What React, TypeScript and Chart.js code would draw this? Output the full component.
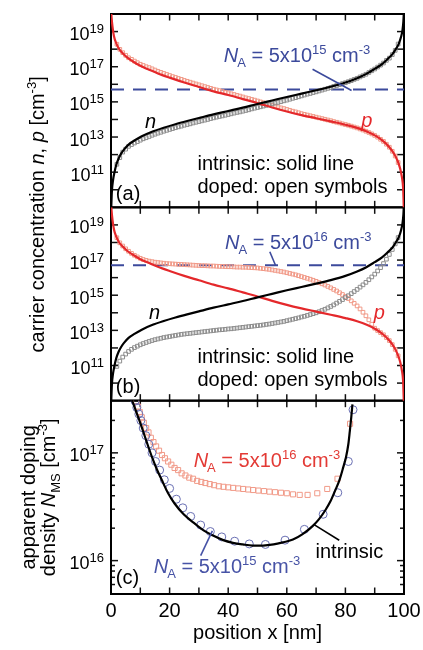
import { useEffect, useRef } from 'react';
import { Chart, registerables } from 'chart.js';

Chart.register(...registerables);

const FONT = '"Liberation Sans", Arial, Helvetica, sans-serif';

const BLUE = '#3c4a9c';
const RED = '#e4282b';
const SALMON = '#f19a88';
const GRAY = '#8d8d8d';
const CIRCLE_BLUE = '#6a70b4';
const RED_TEXT = '#e33a35';
const BLUE_TEXT = '#4753a6';

// position axis, nm
const X_MIN = 0;
const X_MAX = 100;
const X_TICKS = [0, 10, 20, 30, 40, 50, 60, 70, 80, 90, 100];
const X_TICK_LABELS = [0, 20, 40, 60, 80, 100];

// carrier concentration axes of panels (a) and (b), cm^-3
const CONC_MIN = 1e9;
const CONC_MAX = 1e20;
const CONC_TICKS = [1e10, 1e11, 1e12, 1e13, 1e14, 1e15, 1e16, 1e17, 1e18, 1e19];
const CONC_LABEL_EXP = [11, 13, 15, 17, 19];

// apparent doping axis of panel (c), cm^-3
const NMS_MIN = 4.9e15;
const NMS_MAX = 3.05e17;
const NMS_MAJOR = [1e16, 1e17];
const NMS_MINOR = [6e15, 7e15, 8e15, 9e15, 2e16, 3e16, 4e16, 5e16, 6e16, 7e16, 8e16, 9e16, 2e17, 3e17];
const NMS_LABEL_EXP = [16, 17];

// acceptor concentrations of the doped samples, cm^-3
const NA_LOW = 5e15;
const NA_HIGH = 5e16;

// intrinsic electron profile (solid black), log10 of n in cm^-3
const X_N_INTR = [0, 0.3, 0.7, 1.2, 1.8, 2.6, 3.5, 4.5, 6, 8, 10.5, 14, 18, 22, 26, 30, 35, 40, 45, 50,
  55, 60, 65, 70, 75, 80, 84, 87, 90, 92.5, 94.5, 96, 97.2, 98.2, 99, 99.5, 99.8, 100];
const LOG_N_INTR = [8.6, 9.9, 10.55, 11.0, 11.42, 11.78, 12.07, 12.3, 12.57, 12.8, 13.04, 13.3, 13.53, 13.73, 13.91, 14.08, 14.29, 14.48, 14.67, 14.88,
  15.08, 15.28, 15.47, 15.66, 15.86, 16.1, 16.35, 16.58, 16.88, 17.15, 17.45, 17.7, 18.0, 18.3, 18.7, 19.1, 19.6, 20.3];

// intrinsic hole profile (solid red), log10 of p in cm^-3
const X_P_INTR = [0, 0.2, 0.5, 1.0, 1.8, 2.8, 4, 5.5, 7.5, 10, 13, 16, 20, 25, 30, 35, 40, 45, 50, 55,
  60, 65, 70, 75, 80, 84, 87.5, 90.5, 93, 95, 96.6, 97.8, 98.7, 99.3, 99.7, 100];
const LOG_P_INTR = [20.3, 19.8, 19.3, 18.75, 18.33, 18.0, 17.77, 17.53, 17.3, 17.05, 16.83, 16.62, 16.38, 16.1, 15.85, 15.6, 15.39, 15.16, 14.93, 14.68,
  14.45, 14.25, 14.07, 13.89, 13.7, 13.52, 13.3, 13.05, 12.75, 12.42, 12.05, 11.65, 11.2, 10.7, 10.1, 8.6];

// positions of the open symbols for the doped samples, nm
const X_DOPED = [
  2, 3, 4, 5, 6, 7, 8, 9, 10, 11,
  12, 13, 14, 15, 16, 17, 18, 19, 20, 21,
  22, 23, 24, 25, 26, 27, 28, 29, 30, 31,
  32, 33, 34, 35, 36, 37, 38, 39, 40, 41,
  42, 43, 44, 45, 46, 47, 48, 49, 50, 51,
  52, 53, 54, 55, 56, 57, 58, 59, 60, 61,
  62, 63, 64, 65, 66, 67, 68, 69, 70, 71,
  72, 73, 74, 75, 76, 77, 78, 79, 80, 81,
  82, 83, 84, 85, 86, 87, 88, 89, 90, 91,
  92, 93, 94, 95, 96, 97, 98];

// (a) N_A = 5e15: log10 n and p
const LOG_N_DOPED_A = [
  11.45, 11.83, 12.14, 12.31, 12.47, 12.57, 12.66, 12.74, 12.82, 12.9,
  12.96, 13.03, 13.1, 13.16, 13.22, 13.27, 13.33, 13.38, 13.43, 13.48,
  13.53, 13.58, 13.62, 13.67, 13.71, 13.75, 13.8, 13.84, 13.88, 13.92,
  13.96, 14.0, 14.05, 14.09, 14.13, 14.17, 14.2, 14.24, 14.28, 14.32,
  14.36, 14.4, 14.43, 14.47, 14.51, 14.55, 14.6, 14.64, 14.68, 14.72,
  14.76, 14.8, 14.84, 14.89, 14.93, 14.97, 15.01, 15.06, 15.1, 15.15,
  15.2, 15.24, 15.29, 15.34, 15.39, 15.44, 15.48, 15.53, 15.57, 15.62,
  15.67, 15.72, 15.77, 15.82, 15.88, 15.93, 15.98, 16.04, 16.09, 16.15,
  16.21, 16.28, 16.34, 16.42, 16.49, 16.57, 16.67, 16.77, 16.87, 16.98,
  17.09, 17.21, 17.36, 17.49, 17.69, 17.93, 18.29];
const LOG_P_DOPED_A = [
  18.28, 17.99, 17.8, 17.65, 17.51, 17.42, 17.32, 17.23, 17.14, 17.07,
  17.0, 16.95, 16.88, 16.81, 16.74, 16.68, 16.62, 16.56, 16.5, 16.44,
  16.39, 16.33, 16.28, 16.22, 16.17, 16.12, 16.07, 16.02, 15.97, 15.92,
  15.87, 15.82, 15.77, 15.72, 15.68, 15.64, 15.59, 15.55, 15.51, 15.46,
  15.42, 15.37, 15.33, 15.28, 15.23, 15.19, 15.14, 15.1, 15.05, 15.0,
  14.95, 14.9, 14.85, 14.8, 14.75, 14.71, 14.66, 14.62, 14.57, 14.52,
  14.47, 14.43, 14.38, 14.33, 14.29, 14.25, 14.21, 14.17, 14.13, 14.09,
  14.05, 14.01, 13.97, 13.93, 13.88, 13.84, 13.8, 13.75, 13.71, 13.67,
  13.62, 13.57, 13.52, 13.46, 13.4, 13.33, 13.26, 13.18, 13.09, 12.99,
  12.87, 12.75, 12.59, 12.42, 12.19, 11.92, 11.55];

// (b) N_A = 5e16: log10 n and p
const LOG_N_DOPED_B = [
  10.95, 11.25, 11.48, 11.65, 11.8, 11.92, 12.02, 12.1, 12.18, 12.25,
  12.31, 12.37, 12.42, 12.47, 12.51, 12.55, 12.59, 12.62, 12.65, 12.68,
  12.71, 12.74, 12.77, 12.79, 12.81, 12.83, 12.85, 12.87, 12.89, 12.91,
  12.93, 12.95, 12.97, 12.99, 13.01, 13.03, 13.04, 13.06, 13.08, 13.09,
  13.11, 13.13, 13.15, 13.17, 13.19, 13.21, 13.23, 13.25, 13.27, 13.29,
  13.31, 13.34, 13.36, 13.39, 13.42, 13.45, 13.48, 13.51, 13.55, 13.59,
  13.63, 13.67, 13.71, 13.76, 13.8, 13.85, 13.9, 13.95, 14.0, 14.06,
  14.13, 14.2, 14.28, 14.36, 14.45, 14.55, 14.65, 14.75, 14.86, 14.97,
  15.09, 15.21, 15.33, 15.46, 15.59, 15.73, 15.88, 16.04, 16.2, 16.38,
  16.57, 16.8, 17.05, 17.32, 17.6, 17.92, 18.28];
const LOG_P_DOPED_B = [
  18.27, 17.98, 17.8, 17.64, 17.5, 17.38, 17.27, 17.18, 17.1, 17.03,
  16.98, 16.94, 16.91, 16.88, 16.86, 16.84, 16.82, 16.8, 16.79, 16.78,
  16.77, 16.76, 16.75, 16.74, 16.73, 16.72, 16.71, 16.7, 16.69, 16.68,
  16.68, 16.67, 16.66, 16.66, 16.65, 16.64, 16.64, 16.63, 16.62, 16.62,
  16.61, 16.6, 16.6, 16.59, 16.59, 16.58, 16.57, 16.56, 16.55, 16.53,
  16.51, 16.49, 16.47, 16.44, 16.41, 16.38, 16.35, 16.32, 16.28, 16.24,
  16.2, 16.16, 16.11, 16.06, 16.01, 15.96, 15.91, 15.85, 15.79, 15.72,
  15.65, 15.58, 15.5, 15.42, 15.33, 15.24, 15.14, 15.04, 14.93, 14.81,
  14.68, 14.54, 14.39, 14.22, 14.03, 13.83, 13.6, 13.35, 13.12, 12.99,
  12.87, 12.75, 12.59, 12.42, 12.19, 11.92, 11.55];

// (c) apparent doping density, intrinsic (solid black), log10 N_MS
const X_NMS_INTR = [6.9, 7.3, 8.5, 9.5, 10.6, 12.2, 14, 15.6, 17.3, 19.4, 21.7, 24.8, 28.3, 31.6, 35, 38.3, 41.6, 45,
  48.3, 51.9, 55.5, 58.8, 62.1, 65.4, 68.8, 71, 73.2, 74.9, 76.5, 78, 79.3, 80.2, 81, 81.5, 82, 82.4];
const LOG_NMS_INTR = [17.51, 17.48, 17.39, 17.315, 17.23, 17.1, 16.96, 16.85, 16.75, 16.63, 16.53, 16.43, 16.35, 16.28, 16.23, 16.19, 16.165, 16.15,
  16.14, 16.14, 16.15, 16.17, 16.195, 16.245, 16.32, 16.385, 16.47, 16.55, 16.65, 16.75, 16.87, 16.96, 17.08, 17.2, 17.33, 17.45];

// (c) N_A = 5e15 (open circles)
const X_NMS_LOW = [7.6, 8.2, 8.8, 9.5, 10.2, 11, 11.9, 12.9, 14, 15.2, 16.6, 18.2, 20, 22.3,
  24.5, 27.2, 30.6, 33.9, 37.8, 42.2, 47.2, 52.7, 59.4, 66, 72.4, 77.4, 81, 82.6];
const LOG_NMS_LOW = [17.54, 17.48, 17.42, 17.36, 17.3, 17.23, 17.16, 17.08, 17.0, 16.92, 16.84, 16.75, 16.67, 16.57,
  16.49, 16.41, 16.33, 16.27, 16.22, 16.18, 16.155, 16.15, 16.19, 16.29, 16.43, 16.63, 16.92, 17.4];

// (c) N_A = 5e16 (open squares)
const X_NMS_HIGH = [8.6, 9.2, 9.8, 10.5, 11.2, 12, 12.8, 13.6, 14.5, 15.4, 16.4, 17.4, 18.4, 19.5, 20.6, 21.7,
  22.9, 24.1, 25.4, 26.7, 28, 29.4, 30.8, 32.2, 33.7, 35.2, 36.8, 38.4, 40, 41.7, 43.4, 45.1,
  46.8, 48.5, 50.3, 52.2, 54.1, 56, 58, 60, 62.1, 64.4, 67.1, 70.4, 73.8, 77.3, 81.6];
const LOG_NMS_HIGH = [17.48, 17.43, 17.38, 17.33, 17.28, 17.23, 17.19, 17.14, 17.1, 17.06, 17.02, 16.98, 16.95, 16.92, 16.89, 16.86,
  16.84, 16.81, 16.79, 16.77, 16.76, 16.74, 16.73, 16.72, 16.71, 16.7, 16.69, 16.685, 16.68, 16.675, 16.67, 16.665,
  16.66, 16.655, 16.65, 16.645, 16.64, 16.635, 16.63, 16.625, 16.615, 16.61, 16.61, 16.625, 16.665, 16.76, 17.27];

const toPoints = (xs: number[], logs: number[]) => xs.map((x, i) => ({ x, y: 10 ** logs[i] }));

type Seg = { t: string; size?: number; it?: boolean; dy?: number; dx?: number };

const sup = (t: string): Seg => ({ t, size: 13, dy: -8 });
const sub = (t: string): Seg => ({ t, size: 13, dy: 5, dx: -1 });
const naLabel = (exp: string): Seg[] => [{ t: 'N', it: true }, sub('A'), { t: ' = 5x10' }, sup(exp), { t: ' cm' }, sup('-3')];

const fontOf = (s: Seg) => `${s.it ? 'italic ' : ''}${s.size ?? 20}px ${FONT}`;

function richWidth(ctx: CanvasRenderingContext2D, segs: Seg[]) {
  let w = 0;
  for (const s of segs) {
    ctx.font = fontOf(s);
    w += ctx.measureText(s.t).width + (s.dx ?? 0);
  }
  return w;
}

function drawRich(ctx: CanvasRenderingContext2D, segs: Seg[], x: number, y: number, align = 'left', color = '#000') {
  const w = richWidth(ctx, segs);
  let cx = align === 'center' ? x - w / 2 : align === 'right' ? x - w : x;
  ctx.fillStyle = color;
  ctx.textAlign = 'left';
  ctx.textBaseline = 'alphabetic';
  for (const s of segs) {
    ctx.font = fontOf(s);
    cx += s.dx ?? 0;
    ctx.fillText(s.t, cx, y + (s.dy ?? 0));
    cx += ctx.measureText(s.t).width;
  }
}

function stroke(ctx: CanvasRenderingContext2D, a: number[], b: number[], color = '#000', width = 1.5) {
  ctx.beginPath();
  ctx.strokeStyle = color;
  ctx.lineWidth = width;
  ctx.moveTo(a[0], a[1]);
  ctx.lineTo(b[0], b[1]);
  ctx.stroke();
}

// frames, inward ticks, tick labels, axis titles and in-plot annotations
const decor = {
  id: 'decor',
  beforeDatasetsDraw(chart: any) {
    const ctx: CanvasRenderingContext2D = chart.ctx;
    const xs = chart.scales.x;
    const panels = [
      { s: chart.scales.ya, major: CONC_TICKS, minor: [] as number[] },
      { s: chart.scales.yb, major: CONC_TICKS, minor: [] as number[] },
      { s: chart.scales.yc, major: NMS_MAJOR, minor: NMS_MINOR },
    ];
    ctx.save();
    ctx.fillStyle = '#fff';
    ctx.fillRect(0, 0, chart.width, chart.height);
    for (const p of panels) {
      const top = p.s.top;
      const bot = p.s.bottom;
      for (const t of X_TICKS) {
        if (t === X_MIN || t === X_MAX) continue;
        const px = xs.getPixelForValue(t);
        stroke(ctx, [px, top], [px, top + 6.5], '#111', 1.5);
        stroke(ctx, [px, bot], [px, bot - 6.5], '#111', 1.5);
      }
      const yTick = (v: number, len: number) => {
        const py = p.s.getPixelForValue(v);
        if (py < top + 1 || py > bot - 1) return;
        stroke(ctx, [xs.left, py], [xs.left + len, py], '#111', 1.5);
        stroke(ctx, [xs.right, py], [xs.right - len, py], '#111', 1.5);
      };
      p.major.forEach((v) => yTick(v, 7));
      p.minor.forEach((v) => yTick(v, 4));
    }
    ctx.strokeStyle = '#000';
    ctx.lineWidth = 2;
    for (const p of panels) ctx.strokeRect(xs.left, p.s.top, xs.right - xs.left, p.s.bottom - p.s.top);
    ctx.restore();
  },
  afterDatasetsDraw(chart: any) {
    const ctx: CanvasRenderingContext2D = chart.ctx;
    const xs = chart.scales.x;
    const ya = chart.scales.ya;
    const yb = chart.scales.yb;
    const yc = chart.scales.yc;
    const P = (ys: any, x: number, lg: number) => [xs.getPixelForValue(x), ys.getPixelForValue(10 ** lg)];
    const text = (segs: Seg[], at: number[], color = '#000', align = 'left') => drawRich(ctx, segs, at[0], at[1], align, color);
    ctx.save();

    // y tick labels
    const yLabels = (ys: any, exps: number[]) => {
      for (const e of exps) {
        const py = ys.getPixelForValue(10 ** e);
        drawRich(ctx, [{ t: '10', size: 18 }, { t: String(e), size: 13, dy: -7 }], xs.left - 7, py + 8.5, 'right');
      }
    };
    yLabels(ya, CONC_LABEL_EXP);
    yLabels(yb, CONC_LABEL_EXP);
    yLabels(yc, NMS_LABEL_EXP);

    // x tick labels and title
    for (const t of X_TICK_LABELS) {
      drawRich(ctx, [{ t: String(t) }], xs.getPixelForValue(t), yc.bottom + 23, 'center');
    }
    drawRich(ctx, [{ t: 'position x [nm]' }], (xs.left + xs.right) / 2, yc.bottom + 45, 'center');

    // y titles
    ctx.save();
    ctx.translate(xs.left - 67, (ya.top + yb.bottom) / 2 + 7);
    ctx.rotate(-Math.PI / 2);
    drawRich(ctx, [{ t: 'carrier concentration ' }, { t: 'n', it: true }, { t: ', ' }, { t: 'p', it: true }, { t: ' [cm' }, sup('-3'), { t: ']' }], 0, 0, 'center');
    ctx.restore();
    ctx.save();
    ctx.translate(xs.left - 76, (yc.top + yc.bottom) / 2);
    ctx.rotate(-Math.PI / 2);
    drawRich(ctx, [{ t: 'apparent doping' }], 0, 0, 'center');
    ctx.restore();
    ctx.save();
    ctx.translate(xs.left - 56, (yc.top + yc.bottom) / 2);
    ctx.rotate(-Math.PI / 2);
    drawRich(ctx, [{ t: 'density ' }, { t: 'N', it: true }, { t: 'MS', size: 13, dy: 5 }, { t: ' [cm' }, sup('-3'), { t: ']' }], 0, 0, 'center');
    ctx.restore();

    // panel (a)
    text(naLabel('15'), P(ya, 38.5, 17.25), BLUE);
    stroke(ctx, P(ya, 68.8, 16.86), P(ya, 82.1, 15.65), BLUE, 1.6);
    text([{ t: 'n', it: true }], P(ya, 11.6, 13.49));
    text([{ t: 'p', it: true }], P(ya, 85.4, 13.57), RED);
    text([{ t: 'intrinsic: solid line' }], P(ya, 29.5, 11.13));
    text([{ t: 'doped: open symbols' }], P(ya, 29.5, 9.84));
    text([{ t: '(a)' }], P(ya, 1.66, 9.42));

    // panel (b)
    text(naLabel('16'), P(yb, 38.9, 17.64), BLUE);
    stroke(ctx, P(yb, 54.2, 17.47), P(yb, 56.1, 16.72), BLUE, 1.6);
    text([{ t: 'n', it: true }], P(yb, 13, 13.66));
    text([{ t: 'p', it: true }], P(yb, 89.7, 13.66), RED);
    text([{ t: 'intrinsic: solid line' }], P(yb, 29.5, 11.13));
    text([{ t: 'doped: open symbols' }], P(yb, 29.5, 9.84));
    text([{ t: '(b)' }], P(yb, 1.66, 9.42));

    // panel (c)
    text(naLabel('16'), P(yc, 28.2, 16.87), RED_TEXT);
    text(naLabel('15'), P(yc, 14.6, 15.883), BLUE_TEXT);
    stroke(ctx, P(yc, 30.6, 16.047), P(yc, 34.6, 16.276), BLUE_TEXT, 1.6);
    text([{ t: 'intrinsic' }], P(yc, 69.8, 16.025));
    stroke(ctx, P(yc, 69.3, 16.334), P(yc, 77.9, 16.189), '#000', 1.6);
    text([{ t: '(c)' }], P(yc, 1.66, 15.782));

    ctx.restore();
  },
};

const solid = (data: any[], color: string, axis: string) => ({
  data,
  borderColor: color,
  borderWidth: 2.2,
  pointRadius: 0,
  cubicInterpolationMode: 'monotone',
  fill: false,
  xAxisID: 'x',
  yAxisID: axis,
  order: 0,
});

const symbols = (data: any[], color: string, axis: string, style: string, radius: number) => ({
  data,
  showLine: false,
  pointStyle: style,
  pointRadius: radius,
  pointBorderWidth: 1,
  pointBorderColor: color,
  pointBackgroundColor: 'rgba(0,0,0,0)',
  borderColor: color,
  xAxisID: 'x',
  yAxisID: axis,
  order: 1,
});

const dashed = (level: number, axis: string) => ({
  data: [{ x: X_MIN, y: level }, { x: X_MAX, y: level }],
  borderColor: BLUE,
  borderWidth: 2,
  borderDash: [13, 9],
  pointRadius: 0,
  xAxisID: 'x',
  yAxisID: axis,
  order: 2,
});

const logAxis = (min: number, max: number, weight: number) => ({
  type: 'logarithmic',
  min,
  max,
  bounds: 'data',
  position: 'left',
  stack: 'panels',
  stackWeight: 1,
  weight,
  grid: { display: false },
  ticks: { display: false },
  border: { display: false },
});

function buildConfig(): any {
  const nIntr = toPoints(X_N_INTR, LOG_N_INTR);
  const pIntr = toPoints(X_P_INTR, LOG_P_INTR);
  return {
    type: 'line',
    data: {
      datasets: [
        solid(nIntr, '#000', 'ya'),
        solid(pIntr, RED, 'ya'),
        symbols(toPoints(X_DOPED, LOG_N_DOPED_A), GRAY, 'ya', 'rect', 2.6),
        symbols(toPoints(X_DOPED, LOG_P_DOPED_A), SALMON, 'ya', 'rect', 2.6),
        dashed(NA_LOW, 'ya'),

        solid(nIntr, '#000', 'yb'),
        solid(pIntr, RED, 'yb'),
        symbols(toPoints(X_DOPED, LOG_N_DOPED_B), GRAY, 'yb', 'rect', 2.6),
        symbols(toPoints(X_DOPED, LOG_P_DOPED_B), SALMON, 'yb', 'rect', 2.6),
        dashed(NA_HIGH, 'yb'),

        solid(toPoints(X_NMS_INTR, LOG_NMS_INTR), '#000', 'yc'),
        symbols(toPoints(X_NMS_LOW, LOG_NMS_LOW), CIRCLE_BLUE, 'yc', 'circle', 4),
        symbols(toPoints(X_NMS_HIGH, LOG_NMS_HIGH), SALMON, 'yc', 'rect', 3.6),
      ],
    },
    options: {
      animation: false,
      responsive: false,
      events: [],
      layout: { padding: { left: 103, right: 19, top: 14, bottom: 48 } },
      plugins: { legend: { display: false }, tooltip: { enabled: false } },
      scales: {
        x: {
          type: 'linear',
          min: X_MIN,
          max: X_MAX,
          grid: { display: false },
          ticks: { display: false },
          border: { display: false },
        },
        ya: logAxis(CONC_MIN, CONC_MAX, 3),
        yb: logAxis(CONC_MIN, CONC_MAX, 2),
        yc: logAxis(NMS_MIN, NMS_MAX, 1),
      },
    },
    plugins: [decor],
  };
}

export default function App() {
  const ref = useRef<HTMLCanvasElement>(null);
  useEffect(() => {
    const chart = new Chart(ref.current as HTMLCanvasElement, buildConfig());
    return () => chart.destroy();
  }, []);
  return (
    <div style={{ position: 'fixed', left: 0, top: 0, width: 423, height: 650, background: '#fff' }}>
      <canvas ref={ref} width={423} height={650} style={{ display: 'block', width: 423, height: 650 }} />
    </div>
  );
}
